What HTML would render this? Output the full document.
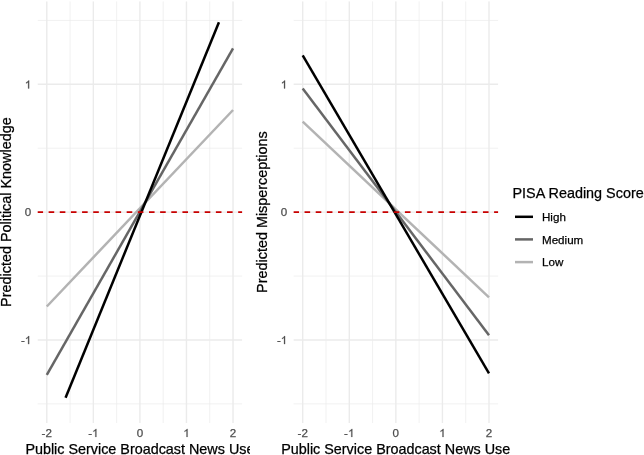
<!DOCTYPE html>
<html><head><meta charset="utf-8">
<style>
html,body{margin:0;padding:0;background:#fff;}
svg{display:block;will-change:transform;}
text{font-family:"Liberation Sans",sans-serif;stroke-width:0.25px;}
</style></head>
<body>
<svg width="644" height="455" viewBox="0 0 644 455">
<rect width="644" height="455" fill="#fff"/>
<clipPath id="cl"><rect x="37.47" y="1.25" width="204.86" height="421.8"/></clipPath>
<g clip-path="url(#cl)">
<path d="M37.47 20.41H242.33M37.47 148.24H242.33M37.47 276.06H242.33M37.47 403.89H242.33M70.06 1.25V423.05M116.62 1.25V423.05M163.18 1.25V423.05M209.74 1.25V423.05" stroke="#EBEBEB" stroke-width="0.7" fill="none"/>
<path d="M37.47 84.32H242.33M37.47 212.15H242.33M37.47 339.98H242.33M46.78 1.25V423.05M93.34 1.25V423.05M139.9 1.25V423.05M186.46 1.25V423.05M233.02 1.25V423.05" stroke="#EBEBEB" stroke-width="1.4" fill="none"/>
<path d="M46.8 306.5L233.05 110" stroke="#B3B3B3" stroke-width="2.5" fill="none"/>
<path d="M46.8 374.8L233.05 48.4" stroke="#666666" stroke-width="2.5" fill="none"/>
<path d="M65.55 397.8L218.95 22.2" stroke="#000000" stroke-width="2.5" fill="none"/>
<path d="M37.47 212.15H242.33" stroke="#C80000" stroke-width="1.8" stroke-dasharray="5.6 5.55" fill="none"/>
</g>
<path transform="translate(24.82,88.42) scale(0.00566,-0.00566)" d="M763 0L583 0L583 1098Q518 1039 412 979Q306 920 222 890L222 1057Q373 1125 486 1221Q599 1318 646 1409L763 1409Z" fill="#4D4D4D" stroke="#4D4D4D" stroke-width="44.1"/>
<text x="24.82" y="216.25" font-size="11.6" fill="#4D4D4D" stroke="#4D4D4D">0</text>
<text x="20.95" y="344.08" font-size="11.6" fill="#4D4D4D" stroke="#4D4D4D">-</text>
<path transform="translate(24.82,344.08) scale(0.00566,-0.00566)" d="M763 0L583 0L583 1098Q518 1039 412 979Q306 920 222 890L222 1057Q373 1125 486 1221Q599 1318 646 1409L763 1409Z" fill="#4D4D4D" stroke="#4D4D4D" stroke-width="44.1"/>
<text x="41.62" y="436.9" font-size="11.6" fill="#4D4D4D" stroke="#4D4D4D">-</text>
<text x="45.49" y="436.9" font-size="11.6" fill="#4D4D4D" stroke="#4D4D4D">2</text>
<text x="88.18" y="436.9" font-size="11.6" fill="#4D4D4D" stroke="#4D4D4D">-</text>
<path transform="translate(92.05,436.9) scale(0.00566,-0.00566)" d="M763 0L583 0L583 1098Q518 1039 412 979Q306 920 222 890L222 1057Q373 1125 486 1221Q599 1318 646 1409L763 1409Z" fill="#4D4D4D" stroke="#4D4D4D" stroke-width="44.1"/>
<text x="136.67" y="436.9" font-size="11.6" fill="#4D4D4D" stroke="#4D4D4D">0</text>
<path transform="translate(183.23,436.9) scale(0.00566,-0.00566)" d="M763 0L583 0L583 1098Q518 1039 412 979Q306 920 222 890L222 1057Q373 1125 486 1221Q599 1318 646 1409L763 1409Z" fill="#4D4D4D" stroke="#4D4D4D" stroke-width="44.1"/>
<text x="229.79" y="436.9" font-size="11.6" fill="#4D4D4D" stroke="#4D4D4D">2</text>
<clipPath id="leftplot"><rect x="0" y="0" width="249.9" height="455"/></clipPath>
<g clip-path="url(#leftplot)"><text x="139.9" y="454.3" font-size="14.37" fill="#000" stroke="#000" text-anchor="middle">Public Service Broadcast News Use</text></g>
<text transform="translate(11,212.1) rotate(-90)" font-size="14.4" fill="#000" stroke="#000" text-anchor="middle">Predicted Political Knowledge</text>
<clipPath id="cr"><rect x="293.4" y="1.25" width="204.91" height="421.8"/></clipPath>
<g clip-path="url(#cr)">
<path d="M293.4 20.41H498.3M293.4 148.24H498.3M293.4 276.06H498.3M293.4 403.89H498.3M326 1.25V423.05M372.56 1.25V423.05M419.14 1.25V423.05M465.71 1.25V423.05" stroke="#EBEBEB" stroke-width="0.7" fill="none"/>
<path d="M293.4 84.32H498.3M293.4 212.15H498.3M293.4 339.98H498.3M302.71 1.25V423.05M349.28 1.25V423.05M395.85 1.25V423.05M442.42 1.25V423.05M488.99 1.25V423.05" stroke="#EBEBEB" stroke-width="1.4" fill="none"/>
<path d="M302.7 121.6L489 297.3" stroke="#B3B3B3" stroke-width="2.5" fill="none"/>
<path d="M302.7 88.6L489 335.3" stroke="#666666" stroke-width="2.5" fill="none"/>
<path d="M302.7 55.3L489 373.4" stroke="#000000" stroke-width="2.5" fill="none"/>
<path d="M293.4 212.15H498.3" stroke="#C80000" stroke-width="1.8" stroke-dasharray="5.6 5.55" fill="none"/>
</g>
<path transform="translate(280.74,88.42) scale(0.00566,-0.00566)" d="M763 0L583 0L583 1098Q518 1039 412 979Q306 920 222 890L222 1057Q373 1125 486 1221Q599 1318 646 1409L763 1409Z" fill="#4D4D4D" stroke="#4D4D4D" stroke-width="44.1"/>
<text x="280.74" y="216.25" font-size="11.6" fill="#4D4D4D" stroke="#4D4D4D">0</text>
<text x="276.88" y="344.08" font-size="11.6" fill="#4D4D4D" stroke="#4D4D4D">-</text>
<path transform="translate(280.74,344.08) scale(0.00566,-0.00566)" d="M763 0L583 0L583 1098Q518 1039 412 979Q306 920 222 890L222 1057Q373 1125 486 1221Q599 1318 646 1409L763 1409Z" fill="#4D4D4D" stroke="#4D4D4D" stroke-width="44.1"/>
<text x="297.55" y="436.9" font-size="11.6" fill="#4D4D4D" stroke="#4D4D4D">-</text>
<text x="301.42" y="436.9" font-size="11.6" fill="#4D4D4D" stroke="#4D4D4D">2</text>
<text x="344.12" y="436.9" font-size="11.6" fill="#4D4D4D" stroke="#4D4D4D">-</text>
<path transform="translate(347.99,436.9) scale(0.00566,-0.00566)" d="M763 0L583 0L583 1098Q518 1039 412 979Q306 920 222 890L222 1057Q373 1125 486 1221Q599 1318 646 1409L763 1409Z" fill="#4D4D4D" stroke="#4D4D4D" stroke-width="44.1"/>
<text x="392.62" y="436.9" font-size="11.6" fill="#4D4D4D" stroke="#4D4D4D">0</text>
<path transform="translate(439.19,436.9) scale(0.00566,-0.00566)" d="M763 0L583 0L583 1098Q518 1039 412 979Q306 920 222 890L222 1057Q373 1125 486 1221Q599 1318 646 1409L763 1409Z" fill="#4D4D4D" stroke="#4D4D4D" stroke-width="44.1"/>
<text x="485.76" y="436.9" font-size="11.6" fill="#4D4D4D" stroke="#4D4D4D">2</text>
<text x="395.7" y="454.3" font-size="14.37" fill="#000" stroke="#000" text-anchor="middle">Public Service Broadcast News Use</text>
<text transform="translate(267,212.1) rotate(-90)" font-size="14.4" fill="#000" stroke="#000" text-anchor="middle">Predicted Misperceptions</text>
<text x="512.5" y="197.6" font-size="14.4" fill="#000" stroke="#000">PISA Reading Score</text>
<path d="M515 216.8H533" stroke="#000000" stroke-width="2.5" fill="none"/>
<path d="M515 239.4H533" stroke="#666666" stroke-width="2.5" fill="none"/>
<path d="M515 262.1H533" stroke="#B3B3B3" stroke-width="2.5" fill="none"/>
<text x="542" y="221" font-size="11.6" fill="#000" stroke="#000">High</text>
<text x="542" y="243.6" font-size="11.6" fill="#000" stroke="#000">Medium</text>
<text x="542" y="266" font-size="11.6" fill="#000" stroke="#000">Low</text>
</svg>
</body></html>
